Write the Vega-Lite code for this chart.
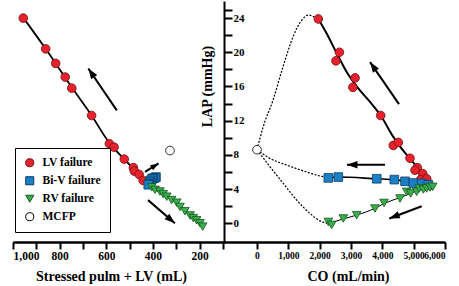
{
  "$schema": "https://vega.github.io/schema/vega-lite/v6.json",
  "autosize": "none",
  "width": 432,
  "height": 241,
  "padding": {"left": 13, "top": 1, "right": 14, "bottom": 44},
  "config": {
    "view": {"stroke": null},
    "font": "Liberation Serif",
    "axis": {
      "labelFont": "Liberation Serif", "labelFontWeight": "bold", "labelColor": "black",
      "titleFont": "Liberation Serif", "titleFontWeight": "bold", "titleColor": "black",
      "domainColor": "black", "tickColor": "black", "grid": false,
      "domainWidth": 2, "tickWidth": 2, "labelOverlap": false
    },
    "legend": {
      "orient": "none", "legendX": 2, "legendY": 147,
      "strokeColor": "black", "fillColor": "white", "padding": 9,
      "labelFont": "Liberation Serif", "labelFontWeight": "bold", "labelFontSize": 11.5, "labelColor": "black",
      "symbolSize": 65, "symbolStrokeWidth": 1, "rowPadding": 5, "labelOffset": 7
    }
  },
  "datasets": {
    "leftPts": [
      {"series": "LV failure", "vol": 956, "lap": 24.0},
      {"series": "LV failure", "vol": 860, "lap": 20.4},
      {"series": "LV failure", "vol": 817, "lap": 18.7},
      {"series": "LV failure", "vol": 776, "lap": 17.1},
      {"series": "LV failure", "vol": 748, "lap": 15.8},
      {"series": "LV failure", "vol": 663, "lap": 12.6},
      {"series": "LV failure", "vol": 587, "lap": 9.3},
      {"series": "LV failure", "vol": 567, "lap": 8.9},
      {"series": "LV failure", "vol": 523, "lap": 7.5},
      {"series": "LV failure", "vol": 484, "lap": 6.5},
      {"series": "LV failure", "vol": 480, "lap": 6.1},
      {"series": "LV failure", "vol": 459, "lap": 5.7},
      {"series": "LV failure", "vol": 442, "lap": 5.0},
      {"series": "Bi-V failure", "vol": 387, "lap": 5.4},
      {"series": "Bi-V failure", "vol": 392, "lap": 5.3},
      {"series": "Bi-V failure", "vol": 400, "lap": 5.25},
      {"series": "Bi-V failure", "vol": 404, "lap": 5.2},
      {"series": "Bi-V failure", "vol": 410, "lap": 5.0},
      {"series": "Bi-V failure", "vol": 414, "lap": 4.8},
      {"series": "Bi-V failure", "vol": 417, "lap": 4.6},
      {"series": "Bi-V failure", "vol": 420, "lap": 4.5},
      {"series": "RV failure", "vol": 405, "lap": 4.2},
      {"series": "RV failure", "vol": 391, "lap": 3.9},
      {"series": "RV failure", "vol": 370, "lap": 3.7},
      {"series": "RV failure", "vol": 356, "lap": 3.4},
      {"series": "RV failure", "vol": 341, "lap": 3.1},
      {"series": "RV failure", "vol": 320, "lap": 2.7},
      {"series": "RV failure", "vol": 298, "lap": 2.4},
      {"series": "RV failure", "vol": 284, "lap": 1.9},
      {"series": "RV failure", "vol": 263, "lap": 1.4},
      {"series": "RV failure", "vol": 241, "lap": 0.9},
      {"series": "RV failure", "vol": 227, "lap": 0.6},
      {"series": "RV failure", "vol": 213, "lap": 0.35},
      {"series": "RV failure", "vol": 198, "lap": 0.0},
      {"series": "RV failure", "vol": 187, "lap": -0.4},
      {"series": "MCFP", "vol": 327, "lap": 8.5}
    ],
    "leftCurve": [
      {"vol": 960, "lap": 24.2}, {"vol": 860, "lap": 20.4}, {"vol": 748, "lap": 15.9},
      {"vol": 663, "lap": 12.6}, {"vol": 587, "lap": 9.4}, {"vol": 523, "lap": 7.5},
      {"vol": 470, "lap": 6.0}, {"vol": 430, "lap": 4.9}, {"vol": 405, "lap": 4.25},
      {"vol": 360, "lap": 3.5}, {"vol": 300, "lap": 2.4}, {"vol": 240, "lap": 0.9},
      {"vol": 185, "lap": -0.45}
    ],
    "leftArrows": [
      {"id": "a1", "vol": 677, "lap": 18.1, "vol2": 555, "lap2": 13.2},
      {"id": "a2", "vol": 376, "lap": 7.0, "vol2": 434, "lap2": 6.0},
      {"id": "a3", "vol": 306, "lap": 0.0, "vol2": 421, "lap2": 2.7}
    ],
    "rightPts": [
      {"series": "LV failure", "co": 1957, "lap": 23.9},
      {"series": "LV failure", "co": 2630, "lap": 20.0},
      {"series": "LV failure", "co": 2520, "lap": 19.0},
      {"series": "LV failure", "co": 3130, "lap": 17.0},
      {"series": "LV failure", "co": 3060, "lap": 15.9},
      {"series": "LV failure", "co": 3948, "lap": 12.6},
      {"series": "LV failure", "co": 4350, "lap": 9.1},
      {"series": "LV failure", "co": 4510, "lap": 9.45},
      {"series": "LV failure", "co": 4883, "lap": 7.6},
      {"series": "LV failure", "co": 5116, "lap": 6.5},
      {"series": "LV failure", "co": 5043, "lap": 6.2},
      {"series": "LV failure", "co": 5289, "lap": 5.8},
      {"series": "LV failure", "co": 5225, "lap": 5.1},
      {"series": "LV failure", "co": 5417, "lap": 5.2},
      {"series": "Bi-V failure", "co": 2276, "lap": 5.3},
      {"series": "Bi-V failure", "co": 2595, "lap": 5.4},
      {"series": "Bi-V failure", "co": 3821, "lap": 5.2},
      {"series": "Bi-V failure", "co": 4382, "lap": 5.1},
      {"series": "Bi-V failure", "co": 4724, "lap": 4.9},
      {"series": "Bi-V failure", "co": 4989, "lap": 4.7},
      {"series": "Bi-V failure", "co": 5257, "lap": 4.65},
      {"series": "Bi-V failure", "co": 5468, "lap": 4.5},
      {"series": "RV failure", "co": 2276, "lap": 0.15},
      {"series": "RV failure", "co": 2384, "lap": -0.2},
      {"series": "RV failure", "co": 2755, "lap": 0.55},
      {"series": "RV failure", "co": 3182, "lap": 0.94},
      {"series": "RV failure", "co": 3766, "lap": 1.72},
      {"series": "RV failure", "co": 4054, "lap": 2.37},
      {"series": "RV failure", "co": 4564, "lap": 2.89},
      {"series": "RV failure", "co": 4778, "lap": 3.67},
      {"series": "RV failure", "co": 4906, "lap": 3.48},
      {"series": "RV failure", "co": 5097, "lap": 3.67},
      {"series": "RV failure", "co": 5180, "lap": 4.06},
      {"series": "RV failure", "co": 5308, "lap": 3.94},
      {"series": "RV failure", "co": 5417, "lap": 4.06},
      {"series": "RV failure", "co": 5522, "lap": 4.18},
      {"series": "RV failure", "co": 5608, "lap": 4.26},
      {"series": "MCFP", "co": 0, "lap": 8.6}
    ],
    "rightCurves": [
      {"curve": "lv", "co": 1957, "lap": 23.9}, {"curve": "lv", "co": 2224, "lap": 22.2},
      {"curve": "lv", "co": 2543, "lap": 19.9}, {"curve": "lv", "co": 2862, "lap": 17.7},
      {"curve": "lv", "co": 3181, "lap": 16.0}, {"curve": "lv", "co": 3607, "lap": 14.2},
      {"curve": "lv", "co": 3948, "lap": 12.6}, {"curve": "lv", "co": 4351, "lap": 10.1},
      {"curve": "lv", "co": 4580, "lap": 8.9}, {"curve": "lv", "co": 4800, "lap": 7.9},
      {"curve": "lv", "co": 5097, "lap": 6.6}, {"curve": "lv", "co": 5362, "lap": 5.4},
      {"curve": "lv", "co": 5627, "lap": 4.45},
      {"curve": "biv", "co": 2276, "lap": 5.3}, {"curve": "biv", "co": 2595, "lap": 5.4},
      {"curve": "biv", "co": 3821, "lap": 5.2}, {"curve": "biv", "co": 4382, "lap": 5.1},
      {"curve": "biv", "co": 4724, "lap": 4.9}, {"curve": "biv", "co": 4989, "lap": 4.7},
      {"curve": "biv", "co": 5257, "lap": 4.65}, {"curve": "biv", "co": 5468, "lap": 4.5},
      {"curve": "biv", "co": 5627, "lap": 4.45},
      {"curve": "rv", "co": 2276, "lap": -0.05}, {"curve": "rv", "co": 2755, "lap": 0.5},
      {"curve": "rv", "co": 3182, "lap": 0.95}, {"curve": "rv", "co": 3766, "lap": 1.75},
      {"curve": "rv", "co": 4054, "lap": 2.3}, {"curve": "rv", "co": 4564, "lap": 3.0},
      {"curve": "rv", "co": 4906, "lap": 3.5}, {"curve": "rv", "co": 5180, "lap": 3.9},
      {"curve": "rv", "co": 5417, "lap": 4.15}, {"curve": "rv", "co": 5627, "lap": 4.45},
      {"curve": "dotUp", "co": 0, "lap": 8.6}, {"curve": "dotUp", "co": 191, "lap": 11.2},
      {"curve": "dotUp", "co": 511, "lap": 14.4}, {"curve": "dotUp", "co": 830, "lap": 18.3},
      {"curve": "dotUp", "co": 1149, "lap": 21.8}, {"curve": "dotUp", "co": 1436, "lap": 23.8},
      {"curve": "dotUp", "co": 1644, "lap": 24.35}, {"curve": "dotUp", "co": 1851, "lap": 24.1},
      {"curve": "dotUp", "co": 1957, "lap": 23.9},
      {"curve": "dotBiv", "co": 0, "lap": 8.6}, {"curve": "dotBiv", "co": 415, "lap": 7.58},
      {"curve": "dotBiv", "co": 948, "lap": 6.8}, {"curve": "dotBiv", "co": 1478, "lap": 6.12},
      {"curve": "dotBiv", "co": 1906, "lap": 5.62}, {"curve": "dotBiv", "co": 2225, "lap": 5.35},
      {"curve": "dotBiv", "co": 2276, "lap": 5.3},
      {"curve": "dotRv", "co": 0, "lap": 8.6}, {"curve": "dotRv", "co": 415, "lap": 6.6},
      {"curve": "dotRv", "co": 839, "lap": 4.65}, {"curve": "dotRv", "co": 1267, "lap": 2.7},
      {"curve": "dotRv", "co": 1692, "lap": 1.14}, {"curve": "dotRv", "co": 2011, "lap": 0.27},
      {"curve": "dotRv", "co": 2276, "lap": -0.04}
    ],
    "rightArrows": [
      {"id": "a4", "co": 3607, "lap": 18.85, "co2": 4532, "lap2": 13.93},
      {"id": "a5", "co": 2873, "lap": 6.84, "co2": 4085, "lap2": 6.84},
      {"id": "a6", "co": 4223, "lap": 0.55, "co2": 5257, "lap2": 1.99}
    ]
  },
  "encoding": {
    "y": {
      "field": "lap", "type": "quantitative",
      "scale": {"domain": [-2.2, 26], "nice": false, "zero": false},
      "axis": {
        "orient": "right", "offset": -221,
        "values": [0, 2, 4, 6, 8, 10, 12, 14, 16, 18, 20, 22, 24, 25],
        "labelExpr": "datum.value % 4 === 0 ? datum.label : ''",
        "tickSize": 8, "labelPadding": 1, "labelFontSize": 11,
        "title": "LAP (mmHg)", "titleAngle": 270, "titleX": -17, "titleY": 85,
        "titleAlign": "center", "titleBaseline": "middle", "titleFontSize": 14
      }
    }
  },
  "layer": [
    {
      "encoding": {
        "x": {
          "field": "vol", "type": "quantitative",
          "scale": {"domain": [-852, 1000], "reverse": true, "nice": false, "zero": false},
          "axis": {
            "orient": "bottom",
            "values": [100, 200, 300, 400, 500, 600, 700, 800, 900, 1000],
            "format": ",d",
            "labelExpr": "datum.value % 200 === 0 ? datum.label : ''",
            "tickSize": 7, "labelPadding": 1, "labelFontSize": 11.5,
            "title": "Stressed pulm + LV (mL)",
            "titleX": 98, "titleY": 38, "titleAlign": "center", "titleBaseline": "alphabetic",
            "titleFontSize": 14
          }
        }
      },
      "layer": [
        {
          "data": {"name": "leftCurve"},
          "mark": {"type": "line", "color": "black", "strokeWidth": 1.8, "interpolate": "monotone"},
          "encoding": {}
        },
        {
          "data": {"name": "leftArrows"},
          "mark": {"type": "rule", "color": "black", "strokeWidth": 2},
          "encoding": {"x2": {"field": "vol2"}, "y2": {"field": "lap2"}}
        },
        {
          "data": {"name": "leftArrows"},
          "transform": [{"filter": "datum.id === 'a1'"}],
          "mark": {"type": "point", "shape": "M0,0L0.6,1.7L-0.6,1.7Z", "filled": true, "color": "black", "opacity": 1, "size": 150, "angle": 325.7},
          "encoding": {}
        },
        {
          "data": {"name": "leftArrows"},
          "transform": [{"filter": "datum.id === 'a2'"}],
          "mark": {"type": "point", "shape": "M0,0L0.6,1.7L-0.6,1.7Z", "filled": true, "color": "black", "opacity": 1, "size": 95, "angle": 58.1},
          "encoding": {}
        },
        {
          "data": {"name": "leftArrows"},
          "transform": [{"filter": "datum.id === 'a3'"}],
          "mark": {"type": "point", "shape": "M0,0L0.6,1.7L-0.6,1.7Z", "filled": true, "color": "black", "opacity": 1, "size": 150, "angle": 130.4},
          "encoding": {}
        },
        {
          "data": {"name": "leftPts"},
          "mark": {"type": "point", "opacity": 1, "size": 75, "strokeWidth": 0.8},
          "encoding": {
            "fill": {"field": "series", "type": "nominal", "scale": {"domain": ["LV failure", "Bi-V failure", "RV failure", "MCFP"], "range": ["#e8222c", "#1b7fc6", "#3aae4a", "#ffffff"]}, "legend": {"title": null}},
            "shape": {"field": "series", "type": "nominal", "scale": {"domain": ["LV failure", "Bi-V failure", "RV failure", "MCFP"], "range": ["circle", "square", "triangle-down", "circle"]}, "legend": {"title": null}},
            "stroke": {"field": "series", "type": "nominal", "scale": {"domain": ["LV failure", "Bi-V failure", "RV failure", "MCFP"], "range": ["#6a1010", "#0b3c66", "#17561f", "#000000"]}, "legend": {"title": null}}
          }
        }
      ]
    },
    {
      "encoding": {
        "x": {
          "field": "co", "type": "quantitative",
          "scale": {"domain": [-7787, 6000], "nice": false, "zero": false},
          "axis": {
            "orient": "bottom",
            "values": [0, 1000, 2000, 3000, 4000, 5000, 6000],
            "format": ",d",
            "tickSize": 7, "labelPadding": 1, "labelFontSize": 9.5,
            "title": "CO (mL/min)",
            "titleX": 335, "titleY": 38, "titleAlign": "center", "titleBaseline": "alphabetic",
            "titleFontSize": 14
          }
        }
      },
      "layer": [
        {
          "data": {"name": "rightCurves"},
          "transform": [{"filter": "datum.curve === 'dotUp' || datum.curve === 'dotBiv' || datum.curve === 'dotRv'"}],
          "mark": {"type": "line", "color": "black", "strokeWidth": 1.2, "strokeDash": [2, 1.5], "interpolate": "monotone"},
          "encoding": {"detail": {"field": "curve"}}
        },
        {
          "data": {"name": "rightCurves"},
          "transform": [{"filter": "datum.curve === 'lv'"}],
          "mark": {"type": "line", "color": "black", "strokeWidth": 2, "interpolate": "monotone"},
          "encoding": {}
        },
        {
          "data": {"name": "rightCurves"},
          "transform": [{"filter": "datum.curve === 'biv'"}],
          "mark": {"type": "line", "color": "black", "strokeWidth": 1.6, "interpolate": "monotone"},
          "encoding": {}
        },
        {
          "data": {"name": "rightCurves"},
          "transform": [{"filter": "datum.curve === 'rv'"}],
          "mark": {"type": "line", "color": "black", "strokeWidth": 1, "interpolate": "monotone"},
          "encoding": {}
        },
        {
          "data": {"name": "rightArrows"},
          "mark": {"type": "rule", "color": "black", "strokeWidth": 2},
          "encoding": {"x2": {"field": "co2"}, "y2": {"field": "lap2"}}
        },
        {
          "data": {"name": "rightArrows"},
          "transform": [{"filter": "datum.id === 'a4'"}],
          "mark": {"type": "point", "shape": "M0,0L0.6,1.7L-0.6,1.7Z", "filled": true, "color": "black", "opacity": 1, "size": 150, "angle": 325.4},
          "encoding": {}
        },
        {
          "data": {"name": "rightArrows"},
          "transform": [{"filter": "datum.id === 'a5'"}],
          "mark": {"type": "point", "shape": "M0,0L0.6,1.7L-0.6,1.7Z", "filled": true, "color": "black", "opacity": 1, "size": 150, "angle": 270},
          "encoding": {}
        },
        {
          "data": {"name": "rightArrows"},
          "transform": [{"filter": "datum.id === 'a6'"}],
          "mark": {"type": "point", "shape": "M0,0L0.6,1.7L-0.6,1.7Z", "filled": true, "color": "black", "opacity": 1, "size": 150, "angle": 249.2},
          "encoding": {}
        },
        {
          "data": {"name": "rightPts"},
          "mark": {"type": "point", "opacity": 1, "size": 75, "strokeWidth": 0.8},
          "encoding": {
            "fill": {"field": "series", "type": "nominal", "scale": {"domain": ["LV failure", "Bi-V failure", "RV failure", "MCFP"], "range": ["#e8222c", "#1b7fc6", "#3aae4a", "#ffffff"]}, "legend": {"title": null}},
            "shape": {"field": "series", "type": "nominal", "scale": {"domain": ["LV failure", "Bi-V failure", "RV failure", "MCFP"], "range": ["circle", "square", "triangle-down", "circle"]}, "legend": {"title": null}},
            "stroke": {"field": "series", "type": "nominal", "scale": {"domain": ["LV failure", "Bi-V failure", "RV failure", "MCFP"], "range": ["#6a1010", "#0b3c66", "#17561f", "#000000"]}, "legend": {"title": null}}
          }
        }
      ]
    }
  ],
  "resolve": {"scale": {"x": "independent"}, "axis": {"x": "independent"}}
}
